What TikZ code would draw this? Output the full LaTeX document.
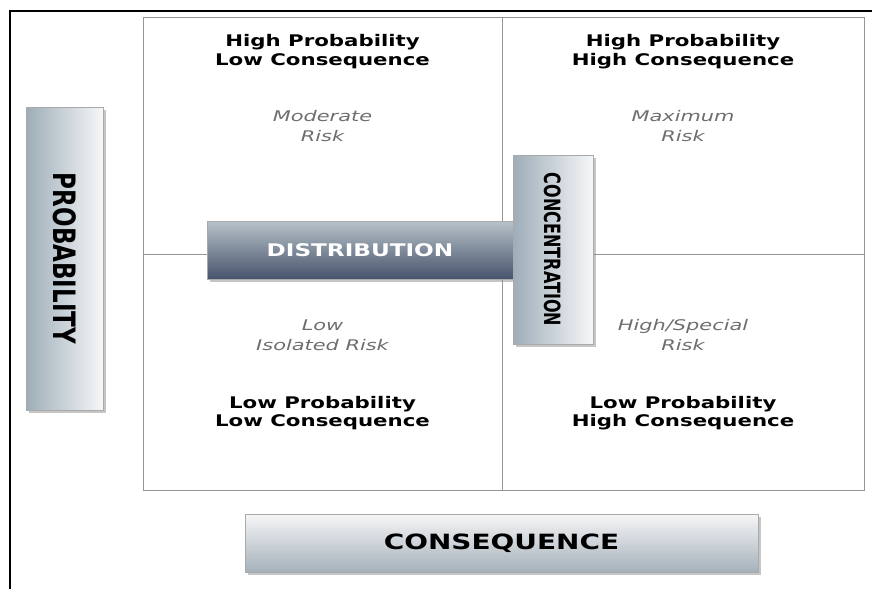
\documentclass[tikz,border=0pt]{standalone}
\usepackage{fontspec}
\setmainfont{DejaVu Sans}
\newfontfamily\boxfont{DejaVu Sans}[FakeStretch=1.33]
\newfontfamily\riskfont{DejaVu Sans}[FakeStretch=1.42]
\usetikzlibrary{shadows}

\definecolor{steeldark}{RGB}{158,173,184}
\definecolor{steellight}{RGB}{246,247,248}
\definecolor{navytop}{RGB}{184,194,202}
\definecolor{navybottom}{RGB}{70,83,107}
\definecolor{conslight}{RGB}{246,246,247}
\definecolor{consdark}{RGB}{165,177,186}
\definecolor{boxedge}{RGB}{170,170,170}
\definecolor{gridgray}{RGB}{150,150,150}
\definecolor{riskgray}{RGB}{110,110,110}

\tikzset{
	gridline/.style={draw=gridgray, line width=1pt},
	boxshadow/.style={drop shadow={shadow xshift=2.5pt, shadow yshift=-2.5pt, opacity=0.45}},
	sidebox/.style={draw=boxedge, line width=0.8pt, inner sep=0pt, left color=steeldark, right color=steellight, boxshadow},
	barbox/.style={draw=boxedge, line width=0.8pt, inner sep=0pt, boxshadow},
	quadlabel/.style={align=center, inner sep=0pt, font=\boxfont\bfseries\fontsize{16}{18.3}\selectfont},
	risklabel/.style={align=center, inner sep=0pt, text=riskgray, font=\riskfont\itshape\fontsize{14.7}{20}\selectfont}
}

\newcommand{\sidetext}[2]{\rotatebox{-90}{\scalebox{1}[#1]{#2}}}

\begin{document}
\begin{tikzpicture}[x=1pt,y=-1pt]
	
		\useasboundingbox (0,0) rectangle (872,589);
		
		% frame
		\draw[line width=1.5pt] (10,589) -- (10,11) -- (872,11);
		
		% grid
		\draw[gridline] (143,17) rectangle (864,490);
		\draw[gridline] (502,17) -- (502,490);
		\draw[gridline] (143,254) -- (864,254);
		
		% quadrant labels
		\node[quadlabel] (hplc) at (322.5,51.5) {High Probability\\Low Consequence};
		\node[quadlabel] (hphc) at (683,51.5) {High Probability\\High Consequence};
		\node[quadlabel] (lplc) at (322.5,413) {Low Probability\\Low Consequence};
		\node[quadlabel] (lphc) at (683,413) {Low Probability\\High Consequence};
		
		% risk labels
		\node[risklabel] (modrisk) at (322.5,126) {Moderate\\Risk};
		\node[risklabel] (maxrisk) at (683,126) {Maximum\\Risk};
		\node[risklabel] (lowrisk) at (322.5,335) {Low\\Isolated Risk};
		\node[risklabel] (specrisk) at (683,335) {High/Special\\Risk};
		
		% axis boxes
		\node[sidebox, minimum width=77pt, minimum height=303pt,
			font=\bfseries\fontsize{23}{23}\selectfont] (prob) at (64.5,258.5)
			{\sidetext{1.34}{PROBABILITY}};
		\node[barbox, top color=conslight, bottom color=consdark,
			minimum width=513pt, minimum height=58pt,
			font=\boxfont\bfseries\fontsize{21}{21}\selectfont] (cons) at (501.5,543)
			{CONSEQUENCE};
		
		% distribution / concentration
		\node[barbox, top color=navytop, bottom color=navybottom, text=white,
			minimum width=306pt, minimum height=58pt,
			font=\boxfont\bfseries\fontsize{17.4}{20}\selectfont] (dist) at (360,250)
			{DISTRIBUTION};
		\node[sidebox, minimum width=80pt, minimum height=189pt,
			font=\bfseries\fontsize{16}{16}\selectfont] (conc) at (553,249.5)
			{\sidetext{1.4}{CONCENTRATION}};
	
	\end{tikzpicture}
\end{document}
